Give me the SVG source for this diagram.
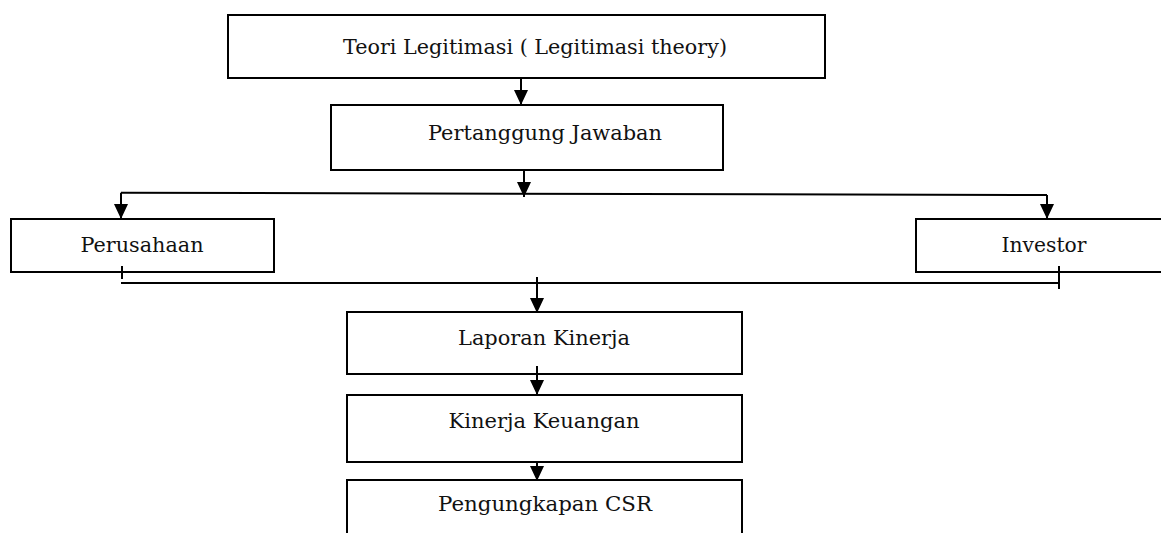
<svg xmlns="http://www.w3.org/2000/svg" width="1161" height="533" viewBox="0 0 1161 533">
<style>
.box{fill:#fff;stroke:#000;stroke-width:2}
.lbl{font-family:"DejaVu Serif","Liberation Serif",serif;font-size:20px;fill:#111;text-anchor:middle}
.ln{fill:none;stroke:#000;stroke-width:2}
</style>
<defs>
<marker id="av" markerUnits="userSpaceOnUse" markerWidth="16" markerHeight="14" refX="15" refY="7" orient="auto" viewBox="0 0 16 14">
<path d="M0,0 L15,7 L0,14 Z" fill="#000"/>
</marker>
</defs>
<g id="n1"><rect class="box" x="228" y="15" width="597" height="63"/><text class="lbl" x="535" y="54" textLength="384" lengthAdjust="spacingAndGlyphs">Teori Legitimasi ( Legitimasi theory)</text></g>
<g id="n2"><rect class="box" x="331" y="105" width="392" height="65"/><text class="lbl" x="545" y="140" textLength="234" lengthAdjust="spacingAndGlyphs">Pertanggung Jawaban</text></g>
<g id="n3"><rect class="box" x="11" y="219" width="263" height="53"/><text class="lbl" x="142" y="252" textLength="123" lengthAdjust="spacingAndGlyphs">Perusahaan</text></g>
<g id="n4"><rect class="box" x="916" y="219" width="260" height="53"/><text class="lbl" x="1044" y="252" textLength="85" lengthAdjust="spacingAndGlyphs">Investor</text></g>
<g id="n5"><rect class="box" x="347" y="312" width="395" height="62"/><text class="lbl" x="544" y="345" textLength="172" lengthAdjust="spacingAndGlyphs">Laporan Kinerja</text></g>
<g id="n6"><rect class="box" x="347" y="395" width="395" height="67"/><text class="lbl" x="544" y="428" textLength="191" lengthAdjust="spacingAndGlyphs">Kinerja Keuangan</text></g>
<g id="n7"><rect class="box" x="347" y="480" width="395" height="70"/><text class="lbl" x="545" y="511" textLength="214" lengthAdjust="spacingAndGlyphs">Pengungkapan CSR</text></g>
<g id="connectors">
<line class="ln" x1="521" y1="78" x2="521" y2="105" marker-end="url(#av)"/>
<line class="ln" x1="524" y1="170" x2="524" y2="197" marker-end="url(#av)"/>
<line class="ln" x1="121" y1="192.7" x2="1047" y2="195"/>
<line class="ln" x1="121" y1="192.7" x2="121" y2="219" marker-end="url(#av)"/>
<line class="ln" x1="1047" y1="195" x2="1047" y2="219" marker-end="url(#av)"/>
<line class="ln" x1="121" y1="283" x2="1059" y2="283"/>
<line class="ln" x1="122" y1="266" x2="122" y2="279"/>
<line class="ln" x1="1059" y1="266" x2="1059" y2="289"/>
<line class="ln" x1="537" y1="277" x2="537" y2="313" marker-end="url(#av)"/>
<line class="ln" x1="537" y1="366" x2="537" y2="395" marker-end="url(#av)"/>
<line class="ln" x1="537" y1="462" x2="537" y2="481" marker-end="url(#av)"/>
</g>
</svg>
